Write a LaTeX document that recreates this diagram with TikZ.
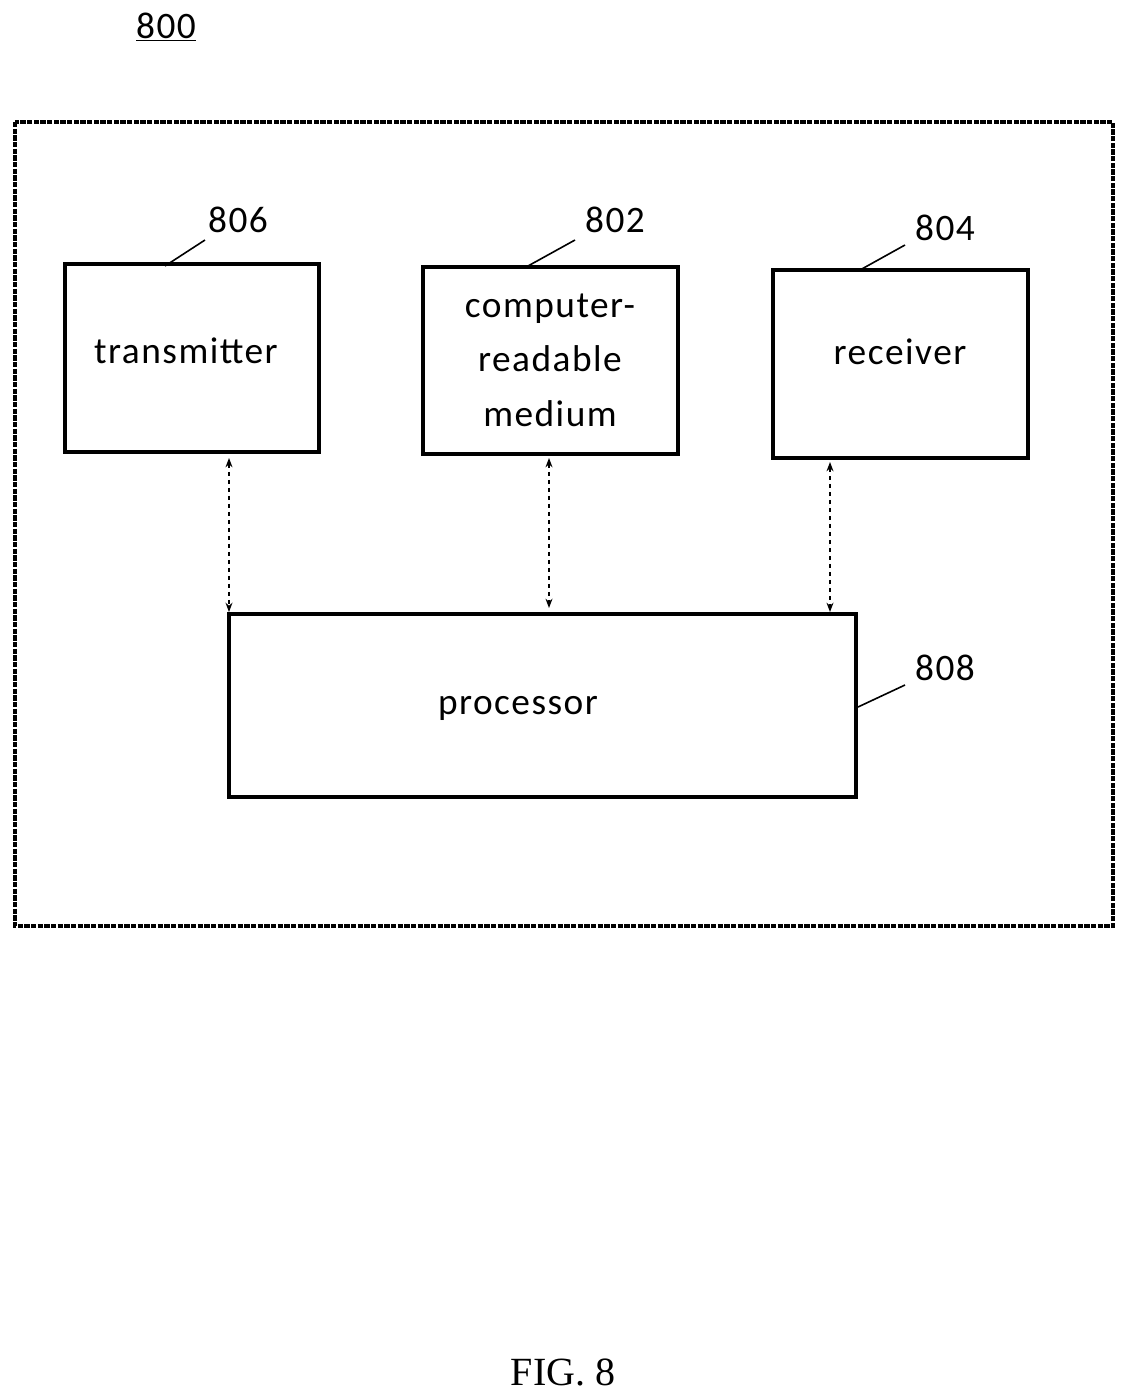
\documentclass[tikz,border=0pt]{standalone}
\usepackage{fontspec}
\setmainfont{Carlito}[LetterSpace=4]
\newfontfamily\timesf{Liberation Serif}
\usetikzlibrary{arrows.meta}
\begin{document}
\begin{tikzpicture}[x=0.75pt,y=-0.75pt,
  box/.style={draw,line width=2.6pt,inner sep=0},
  txt/.style={align=center,font=\fontsize{28}{41}\selectfont},
  lbl/.style={font=\fontsize{28}{32}\selectfont},
  lead/.style={line width=1.2pt},
  conn/.style={dashed,line width=1pt,{Stealth[length=7pt]}-{Stealth[length=7pt]}}]
\useasboundingbox (0,0) rectangle (1127,1393);
\draw[line width=2.5pt,dash pattern=on 4pt off 1pt] (15,122) rectangle (1113,926);
\node[box,minimum width=254*0.75pt,minimum height=188*0.75pt] (tx) at (192,358) {};
\node[box,minimum width=255*0.75pt,minimum height=187*0.75pt] (crm) at (550.5,360.5) {};
\node[box,minimum width=255*0.75pt,minimum height=188*0.75pt] (rx) at (900.5,364) {};
\node[box,minimum width=627*0.75pt,minimum height=183*0.75pt] (pr) at (542.5,705.5) {};
\node[txt] (ttx) at (186,351) {transmitter};
\node[txt] (tcrm) at (550,360) {computer-\\readable\\medium};
\node[txt] (trx) at (900,352) {receiver};
\node[txt] (tpr) at (518,708) {processor};
\node[lbl] (l806) at (238,220) {806};
\node[lbl] (l802) at (615,220) {802};
\node[lbl] (l804) at (945,228) {804};
\node[lbl] (l808) at (945,668) {808};
\node[lbl] (l800) at (166,27) {\underline{800}};
\node[font=\timesf\fontsize{30}{36}\selectfont] (fig) at (563,1372) {FIG. 8};
\coordinate (a1) at (165,266); \coordinate (a2) at (205,240);
\coordinate (b1) at (528,266); \coordinate (b2) at (575,240);
\coordinate (c1) at (860,270); \coordinate (c2) at (905,245);
\coordinate (d1) at (858,707); \coordinate (d2) at (905,685);
\draw[lead] (a1)--(a2); \draw[lead] (b1)--(b2); \draw[lead] (c1)--(c2); \draw[lead] (d1)--(d2);
\draw[conn] (229,458) -- (229,612);
\draw[conn] (549,458) -- (549,608);
\draw[conn] (830,462) -- (830,612);
\end{tikzpicture}
\end{document}
